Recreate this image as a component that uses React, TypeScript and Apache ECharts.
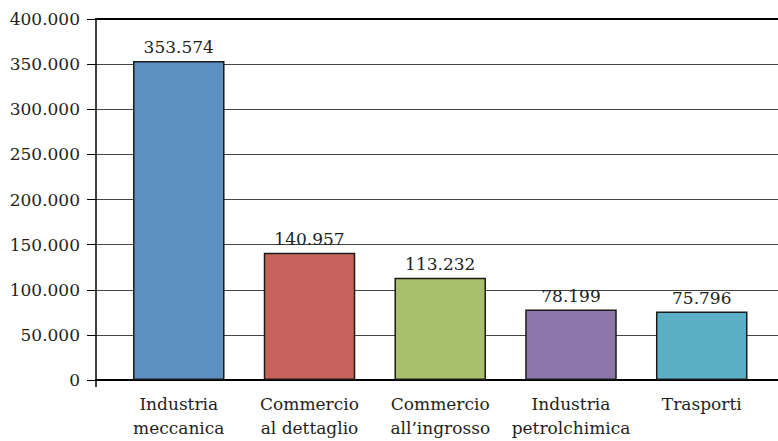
import React, { useEffect, useRef } from "react";
import * as echarts from "echarts";

const categories = [
  "Industria\nmeccanica",
  "Commercio\nal dettaglio",
  "Commercio\nall’ingrosso",
  "Industria\npetrolchimica",
  "Trasporti",
];
const values = [353574, 140957, 113232, 78199, 75796];
const barColors = ["#5e8fc3", "#c6635c", "#a8bf6b", "#8d77ab", "#5cb0c6"];
const yMin = 0;
const yMax = 400000;
const yStep = 50000;

const fmt = (v: number) => {
  const s = Math.round(v).toString();
  return s.replace(/\B(?=(\d{3})+(?!\d))/g, ".");
};

const FONT = "DejaVu Serif";
const TXT = "#231f20";
const FS = 17;

export default function App() {
  const ref = useRef<HTMLDivElement>(null);
  useEffect(() => {
    if (!ref.current) return;
    const chart = echarts.init(ref.current, undefined, { renderer: "svg" });
    const top = 19;
    const bottom = 441 - 380;
    chart.setOption({
      animation: false,
      backgroundColor: "#ffffff",
      textStyle: { fontFamily: FONT },
      grid: [
        { left: 96, right: 0, top, bottom, containLabel: false },
        { left: 113.4, right: 10.9, top, bottom, containLabel: false },
      ],
      xAxis: [
        {
          gridIndex: 0,
          type: "value",
          min: 0,
          max: 1,
          interval: 1,
          position: "bottom",
          axisLine: { show: true, onZero: false, lineStyle: { color: "#000", width: 2 } },
          axisTick: {
            show: true,
            length: 7,
            customValues: [0],
            lineStyle: { color: "#000", width: 1.5 },
          },
          axisLabel: { show: false },
          splitLine: { show: false },
        },
        {
          gridIndex: 0,
          type: "value",
          min: 0,
          max: 1,
          position: "top",
          axisLine: { show: true, onZero: false, lineStyle: { color: "#000", width: 2 } },
          axisTick: { show: false },
          axisLabel: { show: false },
          splitLine: { show: false },
        },
        {
          gridIndex: 1,
          type: "category",
          data: categories,
          axisLine: { show: false, onZero: false },
          axisTick: { show: false },
          splitLine: { show: false },
          axisLabel: {
            show: true,
            margin: 12,
            color: TXT,
            fontFamily: FONT,
            fontSize: FS,
            lineHeight: 24,
            interval: 0,
          },
        },
      ],
      yAxis: [
        {
          gridIndex: 0,
          type: "value",
          position: "left",
          min: yMin,
          max: yMax,
          interval: yStep,
          axisLine: { show: true, onZero: false, lineStyle: { color: "#000", width: 1.5 } },
          axisTick: { show: true, length: 9, lineStyle: { color: "#000", width: 1 } },
          axisLabel: {
            margin: 16,
            color: TXT,
            fontFamily: FONT,
            fontSize: FS,
            formatter: (v: number) => fmt(v),
          },
          splitLine: { show: true, lineStyle: { color: "#444", width: 1 } },
        },
        {
          gridIndex: 1,
          type: "value",
          position: "left",
          min: yMin,
          max: yMax,
          interval: yStep,
          show: false,
          axisLine: { show: false, onZero: false },
          splitLine: { show: false },
        },
      ],
      series: [
        {
          type: "bar",
          xAxisIndex: 2,
          yAxisIndex: 1,
          barWidth: "70%",
          data: values.map((v, i) => ({
            value: v,
            itemStyle: { color: barColors[i] },
          })),
          itemStyle: { borderColor: "#1a1a1a", borderWidth: 1.5 },
          label: {
            show: true,
            position: "top",
            distance: 5,
            color: TXT,
            fontFamily: FONT,
            fontSize: FS,
            formatter: (p: any) => fmt(p.value),
          },
        },
      ],
    });
    return () => chart.dispose();
  }, []);
  return <div ref={ref} style={{ width: 778, height: 441, position: "absolute", left: 0, top: 0 }} />;
}
